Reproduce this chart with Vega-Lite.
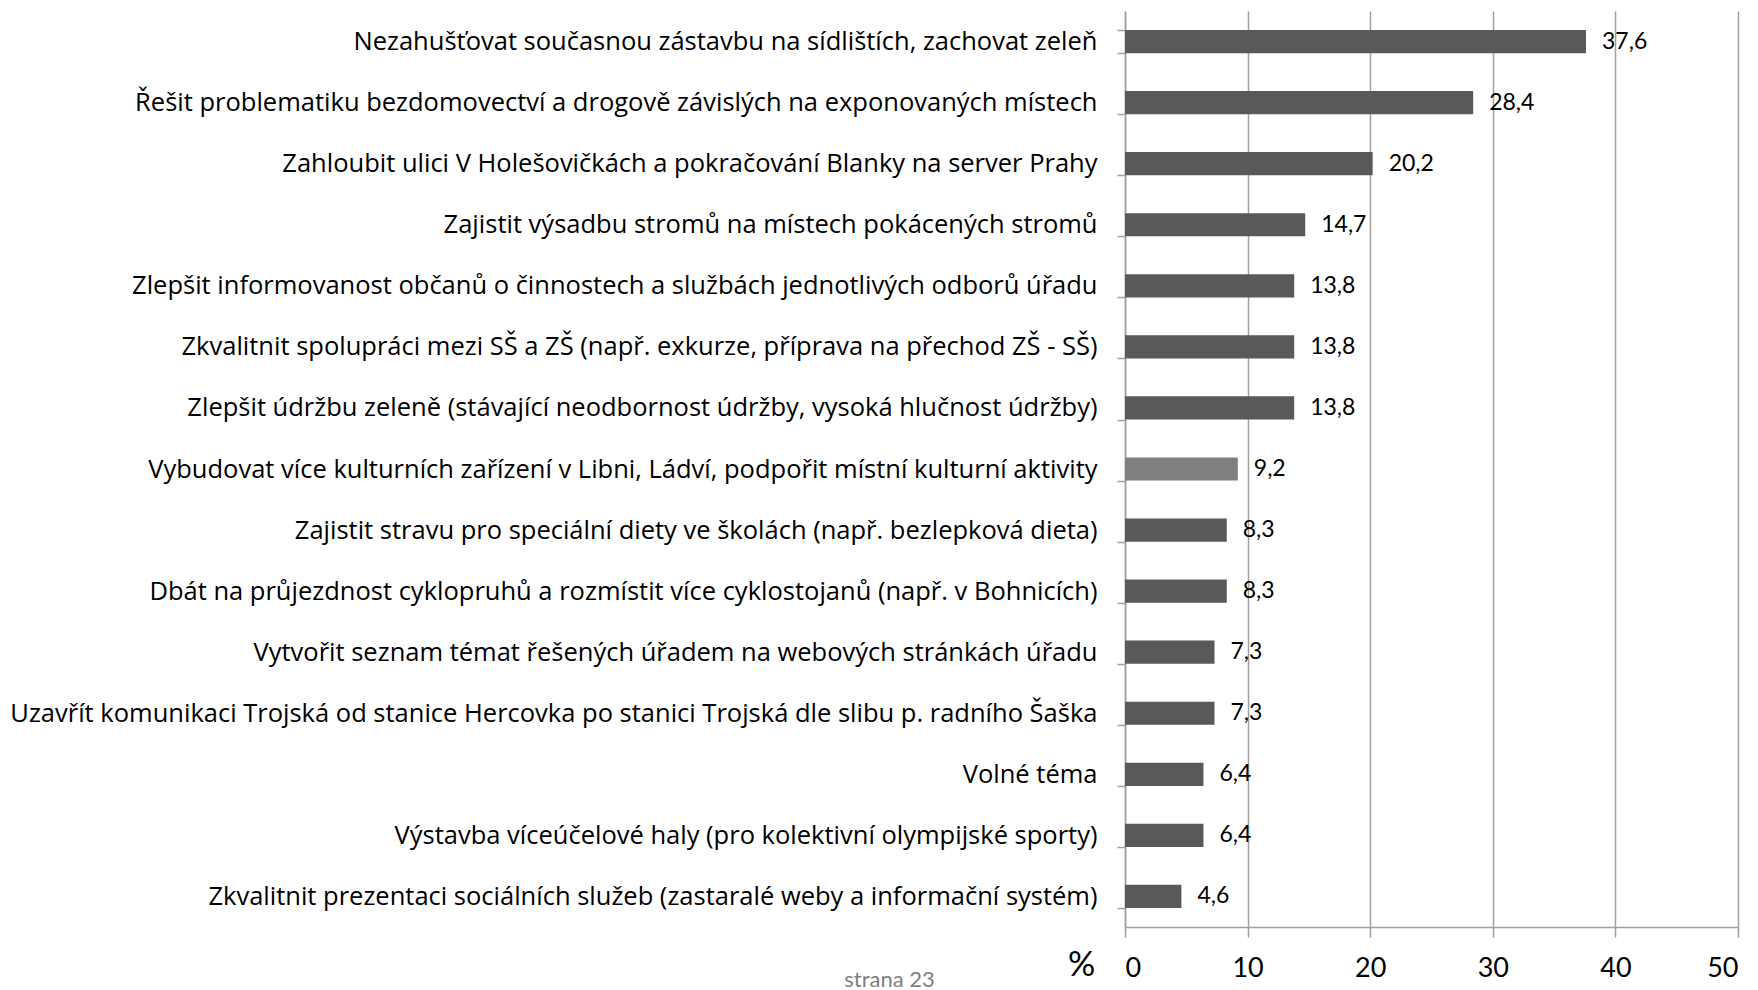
{
  "$schema": "https://vega.github.io/schema/vega-lite/v6.json",
  "autosize": {"type": "none"},
  "padding": {"left": 1125, "top": 11, "right": 20, "bottom": 63},
  "width": 613,
  "height": 916,
  "background": "white",
  "config": {
    "view": {"stroke": null},
    "font": "Lato",
    "locale": {"number": {"decimal": ",", "thousands": " ", "grouping": [3], "currency": ["", " Kč"]}}
  },
  "data": {
    "values": [
      {"tema": "Nezahušťovat současnou zástavbu na sídlištích, zachovat zeleň", "procento": 37.6},
      {"tema": "Řešit problematiku bezdomovectví a drogově závislých na exponovaných místech", "procento": 28.4},
      {"tema": "Zahloubit ulici V Holešovičkách a pokračování Blanky na server Prahy", "procento": 20.2},
      {"tema": "Zajistit výsadbu stromů na místech pokácených stromů", "procento": 14.7},
      {"tema": "Zlepšit informovanost občanů o činnostech a službách jednotlivých odborů úřadu", "procento": 13.8},
      {"tema": "Zkvalitnit spolupráci mezi SŠ a ZŠ (např. exkurze, příprava na přechod ZŠ - SŠ)", "procento": 13.8},
      {"tema": "Zlepšit údržbu zeleně (stávající neodbornost údržby,  vysoká hlučnost údržby)", "procento": 13.8},
      {"tema": "Vybudovat více kulturních zařízení v Libni, Ládví, podpořit místní kulturní aktivity", "procento": 9.2},
      {"tema": "Zajistit stravu pro speciální diety ve školách (např. bezlepková dieta)", "procento": 8.3},
      {"tema": "Dbát na průjezdnost cyklopruhů a rozmístit více cyklostojanů (např. v Bohnicích)", "procento": 8.3},
      {"tema": "Vytvořit seznam témat řešených úřadem na webových stránkách úřadu", "procento": 7.3},
      {"tema": "Uzavřít komunikaci Trojská od stanice Hercovka po stanici Trojská dle slibu p. radního Šaška", "procento": 7.3},
      {"tema": "Volné téma", "procento": 6.4},
      {"tema": "Výstavba víceúčelové haly (pro kolektivní olympijské sporty)", "procento": 6.4},
      {"tema": "Zkvalitnit prezentaci sociálních služeb (zastaralé weby a informační systém)", "procento": 4.6}
    ]
  },
  "encoding": {
    "y": {
      "field": "tema",
      "type": "nominal",
      "sort": null,
      "scale": {"paddingInner": 0.62, "paddingOuter": 0.31},
      "axis": {
        "title": "strana 23",
        "titleAngle": 0,
        "titleX": -236,
        "titleY": 968,
        "titleAlign": "center",
        "titleBaseline": "middle",
        "titleFontSize": 22,
        "titleFontWeight": "normal",
        "titleColor": "#7f7f7f",
        "titleFont": "Lato",
        "labelFont": "Open Sans",
        "labelFontSize": 25.5,
        "labelColor": "#000000",
        "labelLimit": 1200,
        "labelPadding": 20,
        "tickBand": "extent",
        "ticks": true,
        "tickSize": 8,
        "tickColor": "#a0a0a0",
        "domainColor": "#a0a0a0",
        "domainWidth": 1.5,
        "tickWidth": 1.5,
        "grid": false
      }
    },
    "x": {
      "field": "procento",
      "type": "quantitative",
      "scale": {"domain": [0, 50], "nice": false},
      "axis": {
        "values": [0, 10, 20, 30, 40, 50],
        "format": "d",
        "title": "%",
        "titleX": -44,
        "titleY": 38,
        "titleAlign": "center",
        "titleBaseline": "middle",
        "titleFontSize": 34,
        "titleFontWeight": "normal",
        "titleColor": "#000000",
        "titleFont": "Lato",
        "labelFont": "Lato",
        "labelFontSize": 27,
        "labelColor": "#000000",
        "labelPadding": 18,
        "tickSize": 10,
        "tickColor": "#a0a0a0",
        "tickWidth": 1.5,
        "domainColor": "#a0a0a0",
        "domainWidth": 1.5,
        "grid": true,
        "gridColor": "#a0a0a0",
        "gridWidth": 1.5
      }
    }
  },
  "layer": [
    {
      "mark": {"type": "bar"},
      "encoding": {
        "color": {
          "condition": {"test": "datum.tema === 'Vybudovat více kulturních zařízení v Libni, Ládví, podpořit místní kulturní aktivity'", "value": "#7f7f7f"},
          "value": "#595959"
        }
      }
    },
    {
      "mark": {"type": "text", "align": "left", "baseline": "middle", "dx": 16, "fontSize": 23, "font": "Lato", "color": "#000000"},
      "encoding": {
        "text": {"field": "procento", "type": "quantitative", "format": ".1f"}
      }
    }
  ]
}
